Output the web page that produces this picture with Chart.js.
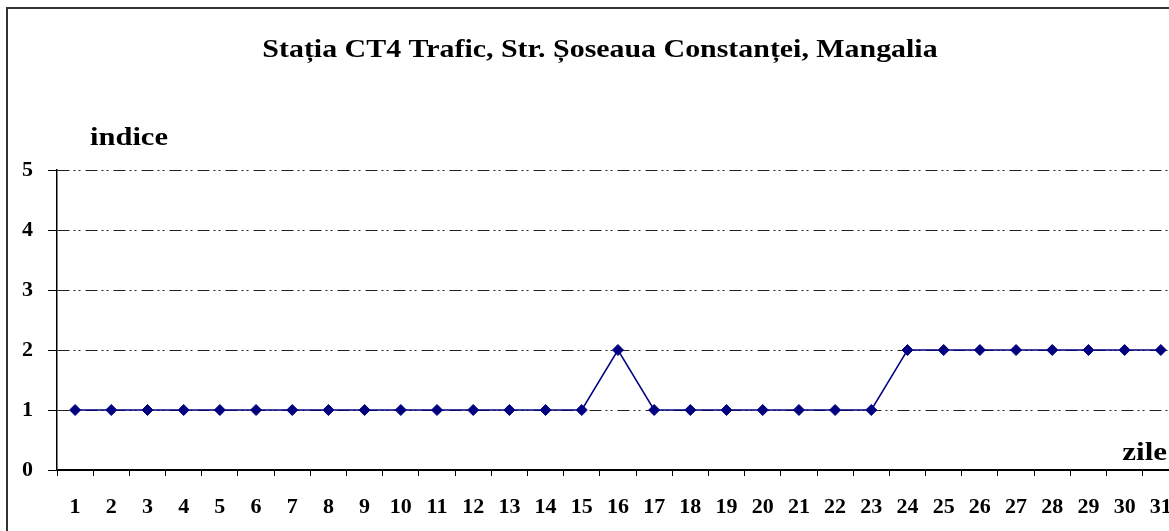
<!DOCTYPE html>
<html>
<head>
<meta charset="utf-8">
<script src="https://cdn.jsdelivr.net/npm/chart.js@4.4.1/dist/chart.umd.min.js"></script>
<style>
  html, body { margin: 0; padding: 0; background: #fff; overflow: hidden; width: 1169px; height: 531px; }
  #wrap { position: absolute; left: 0; top: 0; width: 1169px; height: 531px; overflow: hidden; }
  canvas { display: block; }
</style>
</head>
<body>
<div id="wrap"><canvas id="c" width="1190" height="531" style="width:1190px;height:531px"></canvas></div>
<script>
const titleText = 'Stația CT4 Trafic, Str. Șoseaua Constanței, Mangalia';
const yAxisLabel = 'indice';
const xAxisLabel = 'zile';
const days = ['1','2','3','4','5','6','7','8','9','10','11','12','13','14','15','16','17','18','19','20','21','22','23','24','25','26','27','28','29','30','31'];
const indexValues = [1,1,1,1,1,1,1,1,1,1,1,1,1,1,1,2,1,1,1,1,1,1,1,2,2,2,2,2,2,2,2];
const yTicks = [0,1,2,3,4,5];

const SERIF = '"Liberation Serif", "Times New Roman", serif';

const decor = {
  id: 'decor',
  beforeDraw(chart) {
    const ctx = chart.ctx;
    ctx.save();
    ctx.fillStyle = '#ffffff';
    ctx.fillRect(0, 0, chart.width, chart.height);
    ctx.strokeStyle = '#333333';
    ctx.lineWidth = 2;
    ctx.strokeRect(7, 8, chart.width + 20, chart.height + 20);
    ctx.restore();
  },
  afterDraw(chart) {
    const ctx = chart.ctx;
    const drawStretched = (text, x, y, align, size, sx) => {
      ctx.save();
      ctx.font = 'bold ' + size + 'px ' + SERIF;
      ctx.fillStyle = '#000';
      ctx.textBaseline = 'alphabetic';
      ctx.textAlign = align;
      ctx.translate(x, y);
      ctx.scale(sx, 1);
      ctx.fillText(text, 0, 0);
      ctx.restore();
    };
    drawStretched(titleText, 600, 57, 'center', 26, 1.15);
    drawStretched(yAxisLabel, 90, 145, 'left', 25, 1.22);
    drawStretched(xAxisLabel, 1167, 460, 'right', 25, 1.24);
  }
};

new Chart(document.getElementById('c'), {
  type: 'line',
  data: {
    labels: days,
    datasets: [{
      data: indexValues,
      borderColor: '#000080',
      backgroundColor: '#000080',
      borderWidth: 1.5,
      pointStyle: 'rectRot',
      pointRadius: 5.5,
      pointBackgroundColor: '#000080',
      pointBorderColor: '#000080',
      pointBorderWidth: 1,
      tension: 0,
      fill: false
    }]
  },
  options: {
    responsive: false,
    animation: false,
    devicePixelRatio: 1,
    layout: { padding: { top: 170, left: 0, right: 11, bottom: 0 } },
    plugins: { legend: { display: false }, title: { display: false }, tooltip: { enabled: false } },
    scales: {
      x: {
        type: 'category',
        offset: true,
        afterFit(scale) { scale.height = 61; },
        border: { display: true, color: '#000', width: 2 },
        grid: { display: true, drawOnChartArea: false, drawTicks: true, tickLength: 6, color: '#000', tickColor: '#000', tickWidth: 1, offset: true },
        ticks: { color: '#000', font: { family: SERIF, size: 22, weight: 'bold' }, padding: 18, maxRotation: 0, autoSkip: false }
      },
      y: {
        min: 0, max: 5,
        afterFit(scale) { scale.width = 57; },
        afterBuildTicks(scale) { scale.ticks = yTicks.map(v => ({ value: v })); },
        border: { display: true, color: '#000', width: 1.5, dash: [12, 4, 2, 3, 2, 5] },
        grid: {
          display: true,
          drawOnChartArea: true,
          drawTicks: true,
          tickLength: 9,
          color: (c) => c.tick && c.tick.value === 0 ? 'rgba(0,0,0,0)' : '#222',
          lineWidth: 1,
          tickColor: '#000',
          tickWidth: 1,
          tickBorderDash: []
        },
        ticks: { color: '#000', font: { family: SERIF, size: 22, weight: 'bold' }, padding: 15 }
      }
    }
  },
  plugins: [decor]
});
</script>
</body>
</html>
